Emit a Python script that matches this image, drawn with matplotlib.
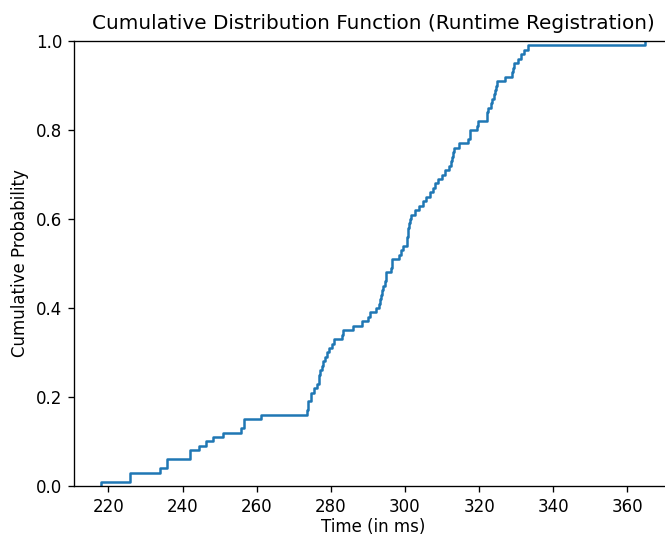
import numpy as np
import matplotlib
matplotlib.use("Agg")
import matplotlib.pyplot as plt

# Runtime of each registration run, in ms
runtimes_ms = [
    218.0, 225.8, 225.8, 233.9, 235.8, 235.8, 241.9, 241.9, 244.4, 246.4,
    248.2, 250.9, 255.9, 256.6, 256.6, 261.1, 273.7, 273.8, 273.8, 274.6,
    274.7, 275.5, 276.2, 276.7, 276.7, 277.1, 277.6, 278.0, 278.5, 279.1,
    279.5, 280.2, 280.8, 283.1, 283.4, 286.0, 288.4, 289.9, 290.6, 292.3,
    293.0, 293.3, 293.6, 293.9, 294.2, 294.6, 294.9, 294.9, 296.2, 296.4,
    296.4, 298.4, 299.0, 299.4, 300.5, 300.6, 300.8, 300.9, 301.1, 301.3,
    301.6, 302.6, 303.8, 304.9, 305.8, 306.8, 307.6, 308.2, 308.9, 310.0,
    310.9, 311.9, 312.5, 312.7, 312.9, 313.2, 314.6, 317.1, 317.5, 317.5,
    319.3, 319.7, 322.1, 322.2, 322.3, 323.3, 323.6, 323.9, 324.2, 324.5,
    324.8, 327.1, 328.9, 329.1, 329.3, 330.6, 331.4, 332.1, 333.2, 364.7,
]

DPI = 120
fig = plt.figure(figsize=(665 / DPI, 536 / DPI), dpi=DPI)
ax = fig.add_axes([0.111, 0.0933, 0.8995, 0.8302])

ax.ecdf(np.array(runtimes_ms))

ax.set_title("Cumulative Distribution Function (Runtime Registration)", pad=7.5)
ax.set_xlabel("Time (in ms)", labelpad=1.5)
ax.set_ylabel("Cumulative Probability")

fig.savefig("out.png", dpi=DPI)
